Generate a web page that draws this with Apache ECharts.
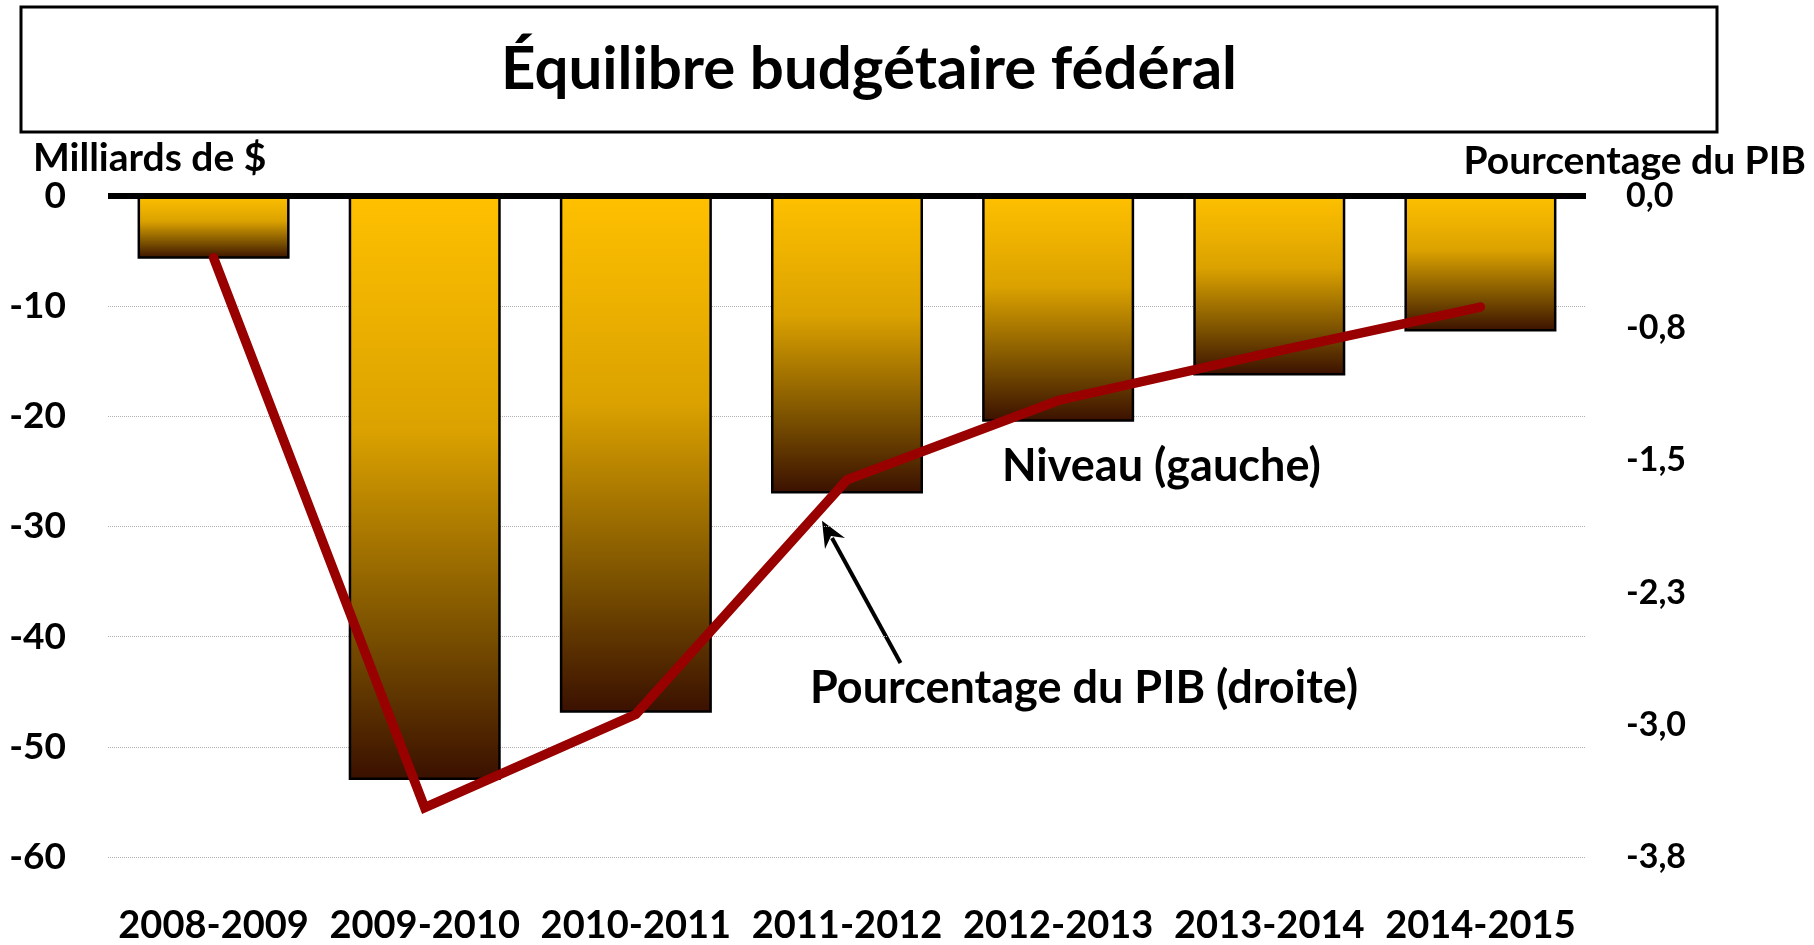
<!DOCTYPE html>
<html lang="fr">
<head>
  <meta charset="UTF-8">
  <title>Équilibre budgétaire fédéral</title>
  <script src="https://cdn.jsdelivr.net/npm/echarts@6/dist/echarts.min.js"></script>
  <style>
    html, body { margin: 0; padding: 0; background: #fff; }
    #main { width: 1814px; height: 945px; }
  </style>
</head>
<body>
  <div id="main"></div>

  <script>
    // données
    const years = ['2008-2009', '2009-2010', '2010-2011', '2011-2012', '2012-2013', '2013-2014', '2014-2015'];
    const niveau = [-5.7, -53.0, -46.9, -27.0, -20.5, -16.3, -12.3];      // milliards de $
    const pctPib = [-0.35, -3.47, -2.94, -1.61, -1.16, -0.89, -0.63];    // % du PIB
    const rightTickLabels = ['0,0', '-0,8', '-1,5', '-2,3', '-3,0', '-3,8'];

    const FONT = 'Lato';
    const chart = echarts.init(document.getElementById('main'));

    const barFill = new echarts.graphic.LinearGradient(0, 0, 0, 1, [
      { offset: 0, color: '#FFC000' },
      { offset: 0.4, color: '#DBA200' },
      { offset: 0.75, color: '#7A5000' },
      { offset: 1, color: '#3A1000' }
    ]);

    const option = {
      animation: false,
      grid: { left: 108, right: 228, top: 196, bottom: 85 },
      xAxis: {
        type: 'category',
        data: years,
        axisLine: { show: false },
        axisTick: { show: false },
        axisLabel: {
          interval: 0,
          margin: 50,
          color: '#000',
          fontFamily: FONT,
          fontWeight: 'bold',
          fontSize: 38
        }
      },
      yAxis: [{
        type: 'value',
        min: -60,
        max: 0,
        interval: 10,
        axisLine: { show: false },
        axisTick: { show: false },
        splitLine: { lineStyle: { color: '#B0B0B0', type: 'dotted', width: 1 } },
        axisLabel: {
          margin: 42,
          color: '#000',
          fontFamily: FONT,
          fontWeight: 'bold',
          fontSize: 37
        }
      }, {
        type: 'value',
        min: -3.75,
        max: 0,
        interval: 0.75,
        position: 'right',
        axisLine: { show: false },
        axisTick: { show: false },
        splitLine: { show: false },
        axisLabel: {
          margin: 40,
          color: '#000',
          fontFamily: FONT,
          fontWeight: 'bold',
          fontSize: 34,
          formatter: function (v) {
            return rightTickLabels[Math.round(-v / 0.75)];
          }
        }
      }],
      series: [{
        name: 'Niveau (gauche)',
        type: 'bar',
        data: niveau,
        barWidth: '72%',
        itemStyle: { color: barFill, borderColor: '#000', borderWidth: 2.5 },
        markLine: {
          silent: true,
          symbol: ['none', 'none'],
          label: { show: false },
          lineStyle: { color: '#000', width: 6, type: 'solid' },
          data: [{ yAxis: 0 }]
        }
      }, {
        name: 'Pourcentage du PIB (droite)',
        type: 'line',
        yAxisIndex: 1,
        data: pctPib,
        showSymbol: false,
        symbol: 'none',
        lineStyle: { color: '#990000', width: 9.5, cap: 'round', join: 'miter' },
        z: 5
      }],
      graphic: [
        {
          type: 'rect',
          shape: { x: 21, y: 7, width: 1696, height: 125 },
          style: { fill: '#fff', stroke: '#000', lineWidth: 3 }
        },
        {
          type: 'text', x: 869, y: 70,
          style: { text: 'Équilibre budgétaire fédéral', align: 'center', verticalAlign: 'middle',
                   fontFamily: FONT, fontWeight: 'bold', fontSize: 60, fill: '#000' }
        },
        {
          type: 'text', x: 33, y: 158,
          style: { text: 'Milliards de $', align: 'left', verticalAlign: 'middle',
                   fontFamily: FONT, fontWeight: 'bold', fontSize: 39, fill: '#000' }
        },
        {
          type: 'text', x: 1806, y: 161,
          style: { text: 'Pourcentage du PIB', align: 'right', verticalAlign: 'middle',
                   fontFamily: FONT, fontWeight: 'bold', fontSize: 39, fill: '#000' }
        },
        {
          type: 'text', x: 1002, y: 466,
          style: { text: 'Niveau (gauche)', align: 'left', verticalAlign: 'middle',
                   fontFamily: FONT, fontWeight: 'bold', fontSize: 45, fill: '#000' }
        },
        {
          type: 'text', x: 810, y: 688,
          style: { text: 'Pourcentage du PIB (droite)', align: 'left', verticalAlign: 'middle',
                   fontFamily: FONT, fontWeight: 'bold', fontSize: 45, fill: '#000' }
        },
        // flèche vers la courbe
        {
          type: 'polyline',
          shape: { points: [[900.5, 663], [832, 538]] },
          style: { stroke: '#000', lineWidth: 4, fill: null }
        },
        {
          type: 'polygon',
          shape: { points: [[822, 520.7], [845, 538], [831, 536], [825, 549]] },
          style: { fill: '#000' }
        }
      ]
    };

    chart.setOption(option);
  </script>
</body>
</html>
